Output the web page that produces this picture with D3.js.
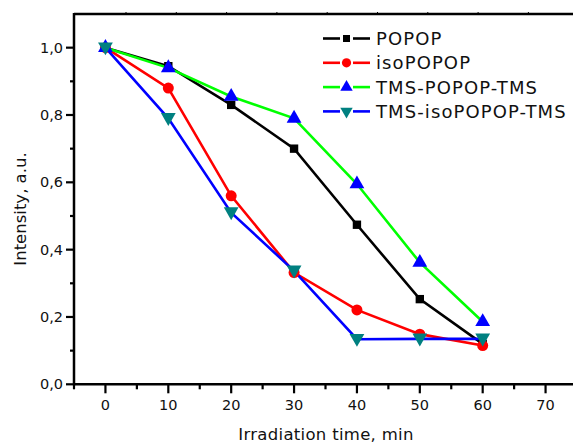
<!DOCTYPE html>
<html>
<head>
<meta charset="utf-8">
<script src="https://cdn.jsdelivr.net/npm/d3@7"></script>
<style>
  body { margin: 0; background: #fff; }
  svg { font-family: "DejaVu Sans", sans-serif; }
</style>
</head>
<body>
<svg id="chart" width="573" height="443"></svg>
<script>
// irradiation time, min
const times = [0, 10, 20, 30, 40, 50, 60];

const popop = [1.0, 0.945, 0.83, 0.70, 0.474, 0.253, 0.12];
const isoPopop = [1.0, 0.88, 0.56, 0.332, 0.221, 0.149, 0.115];
const tmsPopopTms = [1.0, 0.94, 0.855, 0.79, 0.595, 0.362, 0.186];
const tmsIsoPopopTms = [1.0, 0.79, 0.51, 0.337, 0.134, 0.135, 0.135];

const seriesNames = ["POPOP", "isoPOPOP", "TMS-POPOP-TMS", "TMS-isoPOPOP-TMS"];
const xTicks = [0, 10, 20, 30, 40, 50, 60, 70];
const yTicks = [0, 0.2, 0.4, 0.6, 0.8, 1.0];

const series = [
  { name: seriesNames[0], values: popop, line: "#000000", fill: "#000000", symbol: d3.symbolSquare, size: 70, rot: 0 },
  { name: seriesNames[1], values: isoPopop, line: "#ff0000", fill: "#ff0000", symbol: d3.symbolCircle, size: 95, rot: 0 },
  { name: seriesNames[2], values: tmsPopopTms, line: "#00ff00", fill: "#0000ff", symbol: d3.symbolTriangle, size: 95, rot: 0 },
  { name: seriesNames[3], values: tmsIsoPopopTms, line: "#0000ff", fill: "#008080", symbol: d3.symbolTriangle, size: 95, rot: 180 }
];

const svg = d3.select("#chart");

const x = d3.scaleLinear().domain([-5, 75]).range([74, 577]);
const y = d3.scaleLinear().domain([0, 1.1]).range([384.3, 14]);

const fmt = d => d3.format(".1f")(d).replace(".", ",");

// frame lines
svg.append("line")
  .attr("x1", x(-5)).attr("x2", 573)
  .attr("y1", y(1.1)).attr("y2", y(1.1))
  .attr("stroke", "#000").attr("stroke-width", 2.5);

// small ticks on top edge
svg.selectAll(".topTick")
  .data(d3.range(126, 573, 50.3))
  .enter().append("line")
  .attr("x1", d => d).attr("x2", d => d)
  .attr("y1", y(1.1)).attr("y2", y(1.1) - 2)
  .attr("stroke", "#000").attr("stroke-width", 1);

// x axis
const xAxis = svg.append("g")
  .attr("transform", `translate(0,${y(0)})`);
xAxis.append("line")
  .attr("x1", x(-5) - 1).attr("x2", 573)
  .attr("stroke", "#000").attr("stroke-width", 2.5);
xAxis.selectAll(".minor")
  .data(d3.range(-5, 76, 5))
  .enter().append("line")
  .attr("x1", d => x(d)).attr("x2", d => x(d))
  .attr("y1", 0).attr("y2", d => d % 10 === 0 ? 9 : 5)
  .attr("stroke", "#000").attr("stroke-width", 2.2);
xAxis.selectAll(".lab")
  .data(xTicks)
  .enter().append("text")
  .attr("x", d => x(d)).attr("y", 26)
  .attr("text-anchor", "middle")
  .attr("font-size", 14.5)
  .attr("fill", "#111")
  .text(d => d);

// y axis
const yAxis = svg.append("g")
  .attr("transform", `translate(${x(-5)},0)`);
yAxis.append("line")
  .attr("y1", y(1.1) - 1).attr("y2", y(0) + 1)
  .attr("stroke", "#000").attr("stroke-width", 2.5);
yAxis.selectAll(".minor")
  .data(d3.range(0, 11).map(d => d / 10))
  .enter().append("line")
  .attr("y1", d => y(d)).attr("y2", d => y(d))
  .attr("x1", 0).attr("x2", (d, i) => i % 2 === 0 ? -8 : -4)
  .attr("stroke", "#000").attr("stroke-width", 2.2);
yAxis.selectAll(".lab")
  .data(yTicks)
  .enter().append("text")
  .attr("x", -11).attr("y", d => y(d) + 5)
  .attr("text-anchor", "end")
  .attr("font-size", 14.5)
  .attr("fill", "#111")
  .text(fmt);

// axis titles
svg.append("text")
  .attr("x", 326).attr("y", 440)
  .attr("text-anchor", "middle")
  .attr("font-size", 16.5)
  .attr("letter-spacing", 0.3)
  .attr("fill", "#111")
  .text("Irradiation time, min");

svg.append("text")
  .attr("transform", "translate(26,209) rotate(-90)")
  .attr("text-anchor", "middle")
  .attr("font-size", 16.5)
  .attr("fill", "#111")
  .text("Intensity, a.u.");

// lines + markers
const line = d3.line()
  .x((d, i) => x(times[i]))
  .y(d => y(d));

series.forEach(s => {
  svg.append("path")
    .datum(s.values)
    .attr("d", line)
    .attr("fill", "none")
    .attr("stroke", s.line)
    .attr("stroke-width", 2.6);
});

series.forEach(s => {
  svg.selectAll(null)
    .data(s.values)
    .enter().append("path")
    .attr("d", d3.symbol().type(s.symbol).size(s.size))
    .attr("transform", (d, i) => `translate(${x(times[i])},${y(d) + (s.rot ? -1 : 0)}) rotate(${s.rot})`)
    .attr("fill", s.fill);
});

// legend
const legend = svg.append("g").attr("transform", "translate(323,38.5)");
series.forEach((s, i) => {
  const g = legend.append("g").attr("transform", `translate(0,${i * 24.3})`);
  g.append("line")
    .attr("x1", 0).attr("x2", 17)
    .attr("stroke", s.line).attr("stroke-width", 2.6);
  g.append("line")
    .attr("x1", 30).attr("x2", 47)
    .attr("stroke", s.line).attr("stroke-width", 2.6);
  g.append("path")
    .attr("d", d3.symbol().type(s.symbol).size(s.size * 0.7))
    .attr("transform", `translate(23.5,0) rotate(${s.rot})`)
    .attr("fill", s.fill);
  g.append("text")
    .attr("x", 53).attr("y", 6.5)
    .attr("font-size", 18)
    .attr("letter-spacing", 1.1)
    .attr("fill", "#111")
    .text(s.name);
});
</script>
</body>
</html>
